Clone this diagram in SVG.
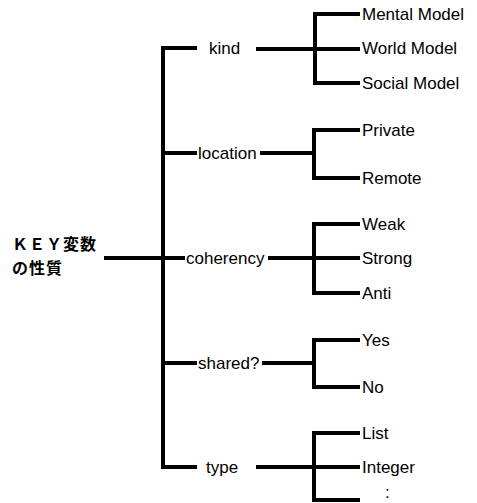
<svg xmlns="http://www.w3.org/2000/svg" width="477" height="503" viewBox="0 0 477 503">
  <style>
    .ln { fill: none; stroke: #000; stroke-width: 4; stroke-linejoin: miter; stroke-linecap: butt; }
    .lbl { font-family: "Liberation Sans", Arial, sans-serif; font-size: 17px; fill: #000; }
    .root { font-family: "Noto Sans CJK JP", sans-serif; font-size: 16px; font-weight: bold; fill: #000; }
  </style>
  <rect width="477" height="503" fill="#fff"/>

  <!-- connectors -->
  <g id="connectors">
    <!-- root stem and main trunk -->
    <path class="ln" d="M104,258 H185"/>
    <path class="ln" d="M197,48 H163 V467 H197"/>
    <!-- kind -->
    <path class="ln" d="M256,49 H360"/>
    <path class="ln" d="M360,14 H315 V83 H360"/>
    <!-- location -->
    <path class="ln" d="M163,153 H197"/>
    <path class="ln" d="M260,153 H314"/>
    <path class="ln" d="M360,130 H314 V178 H360"/>
    <!-- coherency -->
    <path class="ln" d="M268,258 H360"/>
    <path class="ln" d="M360,224 H314 V293 H360"/>
    <!-- shared? -->
    <path class="ln" d="M163,363 H197"/>
    <path class="ln" d="M262,363 H314"/>
    <path class="ln" d="M360,340 H314 V387 H360"/>
    <!-- type -->
    <path class="ln" d="M256,467 H360"/>
    <path class="ln" d="M360,433 H314 V500 H360"/>
  </g>

  <g id="root">
    <text class="root" x="12" y="250" letter-spacing="1">ＫＥＹ変数</text>
    <text class="root" x="12" y="274" letter-spacing="1">の性質</text>
  </g>

  <g id="kind"><text class="lbl" x="209" y="54">kind</text></g>
  <g id="location"><text class="lbl" x="198" y="159">location</text></g>
  <g id="coherency"><text class="lbl" x="186" y="264">coherency</text></g>
  <g id="shared"><text class="lbl" x="198" y="369">shared?</text></g>
  <g id="type"><text class="lbl" x="206" y="473">type</text></g>

  <g id="mental-model"><text class="lbl" x="362" y="20">Mental Model</text></g>
  <g id="world-model"><text class="lbl" x="362" y="54">World Model</text></g>
  <g id="social-model"><text class="lbl" x="362" y="89">Social Model</text></g>
  <g id="private"><text class="lbl" x="362" y="136">Private</text></g>
  <g id="remote"><text class="lbl" x="362" y="184">Remote</text></g>
  <g id="weak"><text class="lbl" x="362" y="230">Weak</text></g>
  <g id="strong"><text class="lbl" x="362" y="264">Strong</text></g>
  <g id="anti"><text class="lbl" x="362" y="299">Anti</text></g>
  <g id="yes"><text class="lbl" x="362" y="346">Yes</text></g>
  <g id="no"><text class="lbl" x="362" y="393">No</text></g>
  <g id="list"><text class="lbl" x="362" y="439">List</text></g>
  <g id="integer"><text class="lbl" x="362" y="473">Integer</text></g>
  <g id="more"><text class="lbl" x="385" y="498">:</text></g>
</svg>
